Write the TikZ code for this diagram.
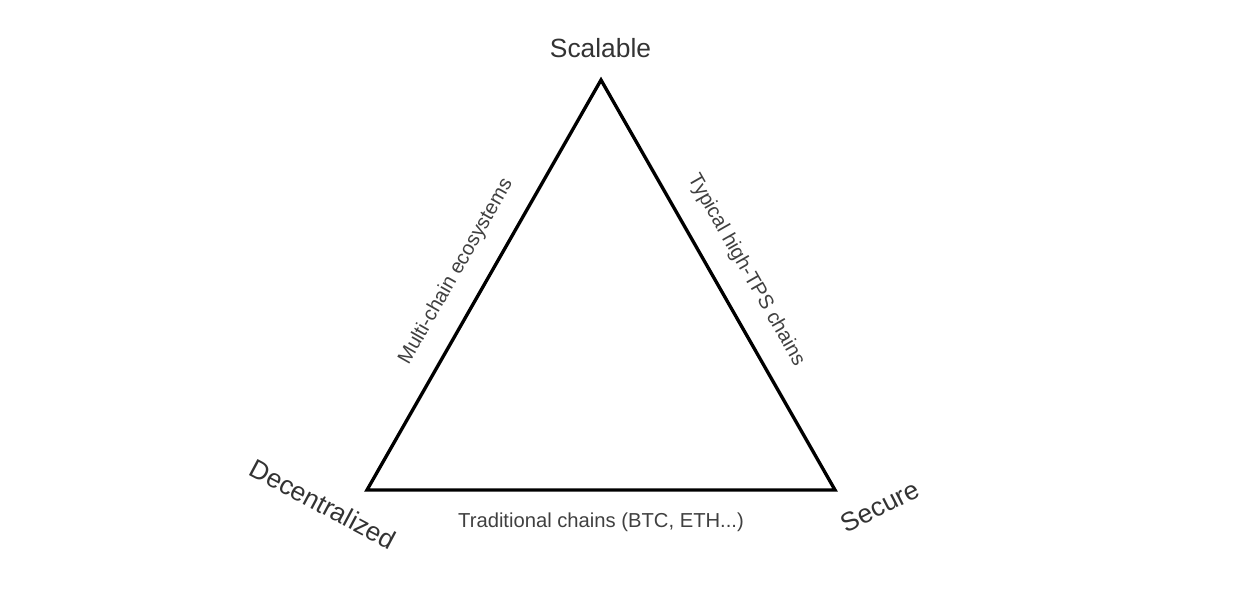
\documentclass[tikz,border=0pt]{standalone}
\usepackage{fontspec}
\setmainfont{Liberation Sans}
\usepackage{tikz}
\usetikzlibrary{calc}

\begin{document}
\begin{tikzpicture}[ corner/.style = {text = black!80, font = \fontsize{15}{18}\selectfont},
 side/.style = {text = black!75, font = \fontsize{11.5}{14}\selectfont},
 edge/.style = {line width = 1.9pt, line join = miter},]
 \useasboundingbox (0,0) rectangle (24.72,11.84);
 \coordinate (top) at (12.02,10.24);
 \coordinate (left) at (7.34,2.04);
 \coordinate (right) at (16.70,2.04);
 \draw [edge] (left) -- (top) -- (right) -- cycle;
 \node[corner, anchor = base] (scalable) at (12.01,10.68) {Scalable};
 \node[corner, rotate = -28] (decentralized) at (6.46,1.76) {Decentralized};
 \node[corner, rotate = 27] (secure) at (17.60,1.71) {Secure};
 \node[side, rotate = 60.3] (multichain) at ($(left)!0.495!(top)!0.616cm!90:(top)$) {Multi-chain ecosystems};
 \node[side, rotate = -60.3] (hightps) at ($(top)!0.502!(right)!0.634cm!90:(right)$) {Typical high-TPS chains};
 \node[side, anchor = base] (traditional) at (12.02,1.28) {Traditional chains (BTC, ETH...)};
 
\end{tikzpicture}
\end{document}
